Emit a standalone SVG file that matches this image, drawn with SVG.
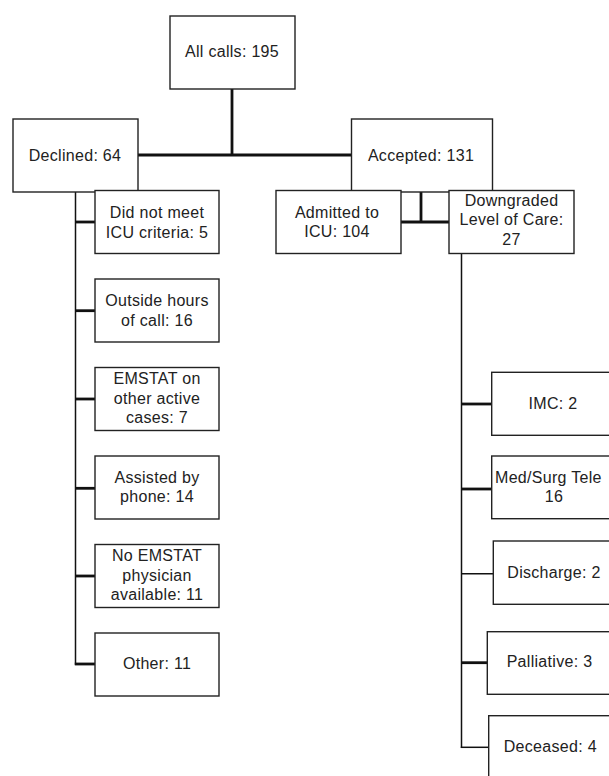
<svg xmlns="http://www.w3.org/2000/svg" width="609" height="776" viewBox="0 0 609 776">
<style>
.box{fill:#fff;stroke:#222;stroke-width:1.4}
.t{font-family:"Liberation Sans",Arial,sans-serif;font-size:16px;letter-spacing:0.3px;fill:#222;text-anchor:middle}
.ts{font-family:"Liberation Sans",Arial,sans-serif;font-size:16px;letter-spacing:0.3px;fill:#222;text-anchor:start}
.thick{stroke:#111;stroke-width:2.8;fill:none}
.thin{stroke:#111;stroke-width:1.5;fill:none}
</style>
<rect width="609" height="776" fill="#fff"/>
<g id="connectors">
<line class="thick" x1="232" y1="89" x2="232" y2="155"/>
<line class="thick" x1="138" y1="155" x2="351.5" y2="155"/>
<line class="thin" x1="75.5" y1="192" x2="75.5" y2="664.7"/>
<line class="thick" x1="75.5" y1="222" x2="95" y2="222"/>
<line class="thick" x1="75.5" y1="310.7" x2="95" y2="310.7"/>
<line class="thick" x1="75.5" y1="399" x2="95" y2="399"/>
<line class="thick" x1="75.5" y1="488.3" x2="95" y2="488.3"/>
<line class="thick" x1="75.5" y1="576" x2="95" y2="576"/>
<line class="thick" x1="74.8" y1="664" x2="95" y2="664"/>
<line class="thick" x1="421" y1="192" x2="421" y2="222"/>
<line class="thick" x1="401" y1="222" x2="449" y2="222"/>
<line class="thin" x1="461.5" y1="253.5" x2="461.5" y2="748"/>
<line class="thick" x1="461.5" y1="404" x2="491.7" y2="404"/>
<line class="thick" x1="461.5" y1="489" x2="491.7" y2="489"/>
<line class="thin" x1="461.5" y1="573.7" x2="493.3" y2="573.7"/>
<line class="thick" x1="461.5" y1="662.7" x2="487.3" y2="662.7"/>
<line class="thin" x1="460.8" y1="747.3" x2="488.7" y2="747.3"/>
</g>
<g id="all-calls"><rect class="box" x="170" y="16" width="125" height="73"/><text class="t" x="232" y="57">All calls: 195</text></g>
<g id="declined"><rect class="box" x="13" y="119" width="125" height="73"/><text class="t" x="75" y="160.5">Declined: 64</text></g>
<g id="accepted"><rect class="box" x="351.5" y="119" width="141" height="73"/><text class="t" x="421" y="160.5">Accepted: 131</text></g>
<g id="did-not-meet"><rect class="box" x="95" y="190.5" width="124" height="63"/><text class="t" x="157" y="217.5">Did not meet</text><text class="t" x="157" y="237.5">ICU criteria: 5</text></g>
<g id="outside-hours"><rect class="box" x="95" y="279" width="124" height="63"/><text class="t" x="157" y="306">Outside hours</text><text class="t" x="157" y="325.5">of call: 16</text></g>
<g id="emstat-other"><rect class="box" x="95" y="367.5" width="124" height="63"/><text class="t" x="157" y="384">EMSTAT on</text><text class="t" x="157" y="404">other active</text><text class="t" x="157" y="423">cases: 7</text></g>
<g id="assisted-phone"><rect class="box" x="95" y="456" width="124" height="63"/><text class="t" x="157" y="483">Assisted by</text><text class="t" x="157" y="502">phone: 14</text></g>
<g id="no-physician"><rect class="box" x="95" y="544.5" width="124" height="63"/><text class="t" x="157" y="561">No EMSTAT</text><text class="t" x="157" y="581">physician</text><text class="t" x="157" y="600">available: 11</text></g>
<g id="other"><rect class="box" x="95" y="633" width="124" height="63"/><text class="t" x="157" y="669">Other: 11</text></g>
<g id="admitted-icu"><rect class="box" x="276" y="190.5" width="125" height="63"/><text class="t" x="337" y="218">Admitted to</text><text class="t" x="337" y="237">ICU: 104</text></g>
<g id="downgraded"><rect class="box" x="449" y="190.5" width="125" height="63"/><text class="t" x="511.5" y="205.5">Downgraded</text><text class="t" x="511.5" y="225">Level of Care:</text><text class="t" x="511.5" y="245">27</text></g>
<g id="imc"><rect class="box" x="491.7" y="372.3" width="140" height="63"/><text class="t" x="553" y="409">IMC: 2</text></g>
<g id="med-surg"><rect class="box" x="491.7" y="456" width="140" height="62.7"/><text class="ts" x="495" y="482.5">Med/Surg Tele</text><text class="t" x="554" y="502">16</text></g>
<g id="discharge"><rect class="box" x="493.3" y="541" width="140" height="63.3"/><text class="t" x="554" y="577.5">Discharge: 2</text></g>
<g id="palliative"><rect class="box" x="487.3" y="631.7" width="140" height="62.6"/><text class="t" x="549.5" y="667">Palliative: 3</text></g>
<g id="deceased"><rect class="box" x="488.7" y="715.7" width="140" height="80"/><text class="t" x="550.3" y="751.5">Deceased: 4</text></g>
</svg>
